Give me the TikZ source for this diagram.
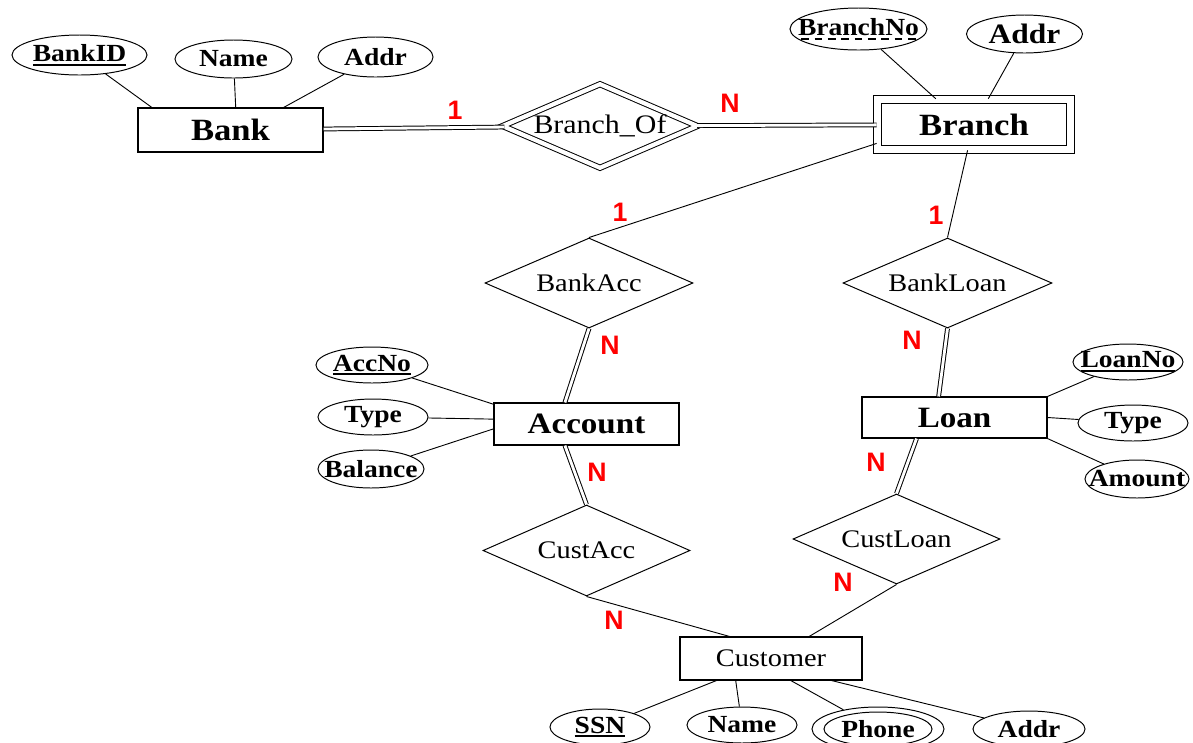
\documentclass[tikz,border=0pt]{standalone}
\usepackage{fontspec}
\setmainfont{Liberation Serif}[FakeStretch=1.12]
\newfontfamily\cardfont{Liberation Sans}
\usepackage{tikz}
\usetikzlibrary{shapes}
\newcommand{\keyattr}[1]{\setbox0=\hbox{#1}\leavevmode\rlap{\copy0}\rule[-3pt]{\wd0}{1.3pt}}
\newcommand{\partkey}[1]{\setbox0=\hbox{#1}\leavevmode\rlap{\copy0}\hbox to \wd0{\xleaders\hbox to 9pt{\hss\rule[-3pt]{5.5pt}{1.3pt}\hss}\hfill}}

\begin{document}
\begin{tikzpicture}[x=0.25mm,y=-0.25mm,line width=0.65pt]
\tikzstyle{entity}=[draw,rectangle,line width=0.8pt,font=\fontsize{21}{24}\selectfont\bfseries];
\tikzstyle{attr}=[draw,ellipse,line width=0.7pt,inner xsep=-5mm,inner ysep=0pt,font=\fontsize{17.5}{20}\selectfont\bfseries];
\tikzstyle{rel}=[draw,diamond,line width=0.7pt,inner sep=0pt,aspect=2.3,font=\fontsize{18}{21}\selectfont];
\tikzstyle{card}=[text=red,font=\cardfont\bfseries\fontsize{19}{22}\selectfont];
\tikzstyle{total}=[double,double distance=2pt,line width=0.7pt];

\useasboundingbox (0,0) rectangle (1193,742);

\node[entity,minimum width=46.25mm,minimum height=11mm,font=\fontsize{22}{26}\selectfont\bfseries] (bank) at (230.5,130) {Bank};
\node[entity,double,double distance=5pt,minimum width=48.4mm,minimum height=12.6mm,font=\fontsize{22}{26}\selectfont\bfseries] (branch) at (974,124.5) {Branch};
\node[entity,minimum width=46.25mm,minimum height=10.5mm] (account) at (586.5,424) {Account};
\node[entity,minimum width=46.25mm,minimum height=10.25mm] (loan) at (954.5,417.5) {Loan};
\node[entity,minimum width=45.5mm,minimum height=10.75mm,font=\fontsize{18}{21}\selectfont] (customer) at (771,658.5) {Customer};

\node[rel,double,double distance=3pt,minimum width=48.75mm,minimum height=21mm,font=\fontsize{19}{22}\selectfont] (branchof) at (600,126) {Branch\_Of};
\node[rel,minimum width=52mm,minimum height=22.5mm] (bankacc) at (589,283) {BankAcc};
\node[rel,minimum width=52.25mm,minimum height=22.5mm] (bankloan) at (947.5,283) {BankLoan};
\node[rel,minimum width=51.75mm,minimum height=22.75mm] (custacc) at (586.5,550.5) {CustAcc};
\node[rel,minimum width=51.75mm,minimum height=22.5mm] (custloan) at (896.5,539) {CustLoan};

\node[attr,minimum width=33.75mm,minimum height=10mm] (bankid) at (79.5,55) {\keyattr{BankID}};
\node[attr,minimum width=29.25mm,minimum height=9.5mm] (bname) at (233.5,59) {Name};
\node[attr,minimum width=28.75mm,minimum height=10mm] (baddr) at (375.5,57) {Addr};
\node[attr,minimum width=34.25mm,minimum height=10.5mm] (branchno) at (858.5,29) {\partkey{BranchNo}};
\node[attr,minimum width=29mm,minimum height=9.5mm,font=\fontsize{20}{24}\selectfont\bfseries] (braddr) at (1024.5,34) {Addr};
\node[attr,minimum width=28mm,minimum height=9mm] (accno) at (372,365) {\keyattr{AccNo}};
\node[attr,minimum width=27.5mm,minimum height=9mm] (acctype) at (373,417) {Type};
\node[attr,minimum width=26.5mm,minimum height=9.5mm] (balance) at (371,469) {Balance};
\node[attr,minimum width=27.5mm,minimum height=9mm] (loanno) at (1128,362) {\keyattr{LoanNo}};
\node[attr,minimum width=27.5mm,minimum height=9mm] (loantype) at (1133,423) {Type};
\node[attr,minimum width=26mm,minimum height=9.5mm] (amount) at (1137,479) {Amount};
\node[attr,minimum width=25mm,minimum height=9mm] (ssn) at (600,727) {\keyattr{SSN}};
\node[attr,minimum width=27.5mm,minimum height=9mm] (cname) at (742,725) {Name};
\node[attr,minimum width=33mm,minimum height=11mm] (phone) at (878,729) {Phone};
\draw[line width=0.7pt] (phone.center) ellipse [x radius=54,y radius=17];
\node[attr,minimum width=28mm,minimum height=9mm] (caddr) at (1029,729) {Addr};

\node[card] (c1) at (455,110) {1};
\node[card] (c2) at (730,103) {N};
\node[card] (c3) at (620,212) {1};
\node[card] (c4) at (936,215) {1};
\node[card] (c5) at (610,345) {N};
\node[card] (c6) at (912,340) {N};
\node[card] (c7) at (597,472) {N};
\node[card] (c8) at (876,462) {N};
\node[card] (c9) at (843,582) {N};
\node[card] (c10) at (614,620) {N};

\draw (bankid) -- (bank.164);
\draw (bname) -- (bank.77);
\draw (baddr) -- (bank.23);
\draw[total] (bank) -- (branchof);
\draw[total] (branchof) -- (branch);
\draw (branchno) -- (branch.146);
\draw (braddr) -- (branch.61);
\draw (branch.191) -- (bankacc.north);
\draw (branch.256) -- (bankloan.north);
\draw[total] (bankacc.south) -- (account.135);
\draw[total] (account.225) -- (custacc.north);
\draw[total] (bankloan.south) -- (loan.127);
\draw[total] (loan.209) -- (custloan.north);
\draw (custacc.south) -- (customer.152);
\draw (custloan.south) -- (customer.30);
\draw (accno) -- (account.168);
\draw (acctype) -- (account.177);
\draw (balance) -- (account.183);
\draw (loanno) -- (loan.north east);
\draw (loantype) -- (loan.east);
\draw (amount) -- (loan.south east);
\draw (ssn) -- (customer.202);
\draw (cname) -- (customer.212);
\draw (phone) -- (customer.312);
\draw (caddr) -- (customer.340);
\end{tikzpicture}
\end{document}
